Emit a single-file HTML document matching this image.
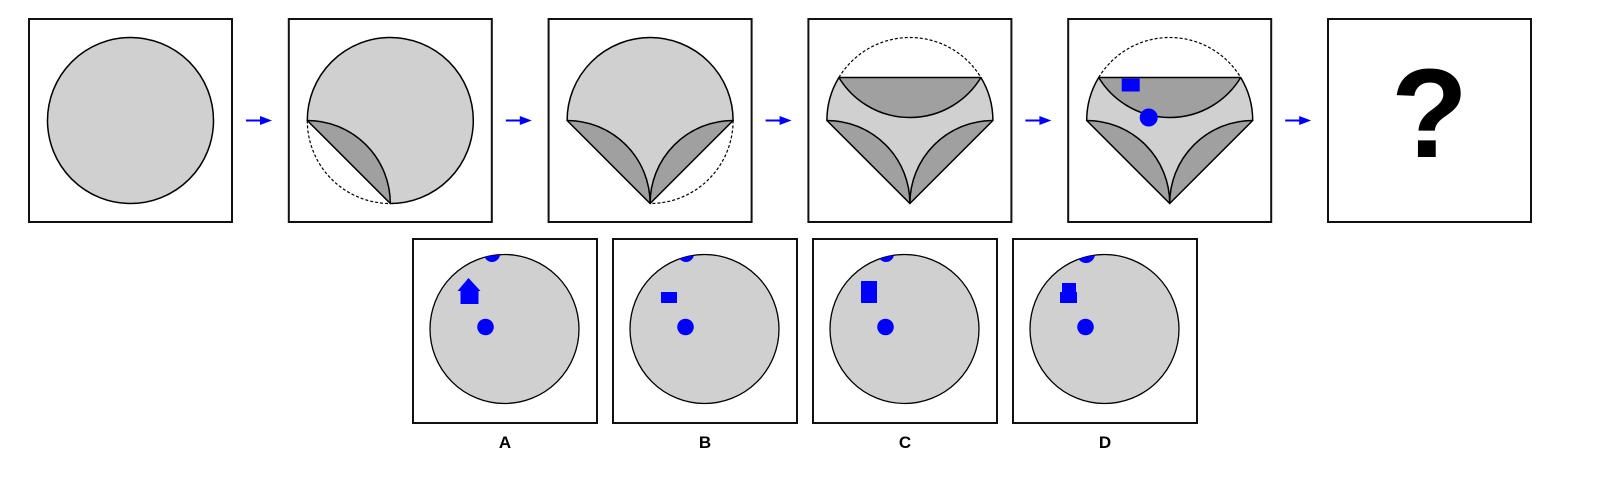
<!DOCTYPE html>
<html><head><meta charset="utf-8">
<style>
html,body{margin:0;padding:0;background:#fff;width:1610px;height:490px;overflow:hidden}
svg{display:block}
text{font-family:"Liberation Sans",sans-serif;font-weight:bold}
</style></head>
<body>
<svg id="s" width="1610" height="490" viewBox="0 0 1610 490" xmlns="http://www.w3.org/2000/svg">
<defs>
<clipPath id="cA"><circle cx="504.5" cy="329" r="74.5"/></clipPath>
<clipPath id="cB"><circle cx="704.5" cy="329" r="74.5"/></clipPath>
<clipPath id="cC"><circle cx="904.5" cy="329" r="74.5"/></clipPath>
<clipPath id="cD"><circle cx="1104.5" cy="329" r="74.5"/></clipPath>
</defs>
<g id="top"></g>
<g id="opts"></g>
</svg>
<script>
const NS='http://www.w3.org/2000/svg';
const svg=document.getElementById('s');
const topG=document.getElementById('top');
const optG=document.getElementById('opts');
function mk(tag,attrs,parent){const e=document.createElementNS(NS,tag);for(const k in attrs)e.setAttribute(k,attrs[k]);parent.appendChild(e);return e;}
const LIGHT='#d0d0d0',DARK='#a0a0a0',BLUE='#0000ff';
const r=83,cy=120.5;
const wf={fill:'#fff',stroke:'#fff','stroke-width':2};
for(let i=0;i<6;i++){
  const x0=29+259.8*i, cx=x0+101.5;
  const g=mk('g',{},topG);
  
  
  const box=mk('rect',{x:x0,y:19,width:203,height:203,fill:'#fff',stroke:'#111','stroke-width':2},g);
  
  
  const L=[cx-r,cy],B=[cx,cy+r],R=[cx+r,cy],T1=[cx-71,cy-43],T2=[cx+71,cy-43];
  const p=a=>a[0]+' '+a[1];
  const st={fill:'none',stroke:'#000','stroke-width':1.5};
  const ds={fill:'none',stroke:'#000','stroke-width':1.2,'stroke-dasharray':'3 2'};
  if(i===0){
    const c=mk('circle',{cx:cx,cy:cy,r:r,fill:LIGHT,stroke:'#000','stroke-width':1.5},g);
    
    
  } else if(i<5){
    mk('circle',{cx:cx,cy:cy,r:r,fill:LIGHT},g);
    mk('path',Object.assign({d:`M${p(L)} A${r} ${r} 0 0 0 ${p(B)} Z`},wf),g);
    if(i===1){
      mk('path',Object.assign({d:`M${p(L)} A${r} ${r} 0 0 0 ${p(B)}`},ds),g);
      mk('path',Object.assign({d:`M${p(B)} A${r} ${r} 0 1 0 ${p(L)}`},st),g);
    } else {
      mk('path',Object.assign({d:`M${p(R)} A${r} ${r} 0 0 1 ${p(B)} Z`},wf),g);
      if(i===2){
        mk('path',Object.assign({d:`M${p(R)} A${r} ${r} 0 0 1 ${p(B)}`},ds),g);
        mk('path',Object.assign({d:`M${p(L)} A${r} ${r} 0 0 1 ${p(R)}`},st),g);
      } else {
        mk('path',Object.assign({d:`M${p(T1)} A${r} ${r} 0 0 1 ${p(T2)} Z`},wf),g);
        mk('path',Object.assign({d:`M${p(T1)} A${r} ${r} 0 0 1 ${p(T2)}`},ds),g);
        mk('path',Object.assign({d:`M${p(T1)} A${r} ${r} 0 0 0 ${p(L)}`},st),g);
        mk('path',Object.assign({d:`M${p(R)} A${r} ${r} 0 0 0 ${p(T2)}`},st),g);
        const dt=mk('path',{d:`M${p(T1)} L${p(T2)} A${r} ${r} 0 0 1 ${p(T1)} Z`,fill:DARK,stroke:'#000','stroke-width':1.5,'stroke-linejoin':'round'},g);
        
        
      }
      const dr=mk('path',{d:`M${p(R)} A${r} ${r} 0 0 0 ${p(B)} Z`,fill:DARK,stroke:'#000','stroke-width':1.5,'stroke-linejoin':'round'},g);
      
      
    }
    const dl=mk('path',{d:`M${p(L)} A${r} ${r} 0 0 1 ${p(B)} Z`,fill:DARK,stroke:'#000','stroke-width':1.5,'stroke-linejoin':'round'},g);
    
    
    if(i===4){
      const sq=mk('rect',{x:cx-48,y:cy-42,width:18,height:13,fill:BLUE},g);
      
      
      const dot=mk('circle',{cx:cx-21,cy:cy-3,r:9,fill:BLUE},g);
      
      
    }
  } else {
    const q=mk('text',{x:cx,y:157,'font-size':126,'text-anchor':'middle',fill:'#000'},g);
    q.textContent='?';
    
    
  }
  if(i<5){
    const ax=x0+203+14;
    const a=mk('g',{},topG);
    
    
    mk('line',{x1:ax,y1:cy,x2:ax+16,y2:cy,stroke:BLUE,'stroke-width':2},a);
    mk('path',{d:`M${ax+14} ${cy-4.5} L${ax+26} ${cy} L${ax+14} ${cy+4.5} Z`,fill:BLUE},a);
  }
}
const labels=['A','B','C','D'];
for(let i=0;i<4;i++){
  const x0=413+200*i, cx=x0+91.5, ocy=329;
  const g=mk('g',{},optG);
  
  
  mk('rect',{x:x0,y:239,width:184,height:184,fill:'#fff',stroke:'#111','stroke-width':2},g);
  mk('circle',{cx:cx,cy:ocy,r:74.5,fill:LIGHT,stroke:'#000','stroke-width':1.3},g);
  const cl=mk('g',{'clip-path':`url(#c${labels[i]})`},g);
  const topx=[-12.5,-18.5,-18.5,-18.5][i];
  const hs=mk('circle',{cx:cx+topx,cy:254,r:[8,8,8,9][i],fill:BLUE},cl);
  
  
  const d=mk('circle',{cx:cx-19,cy:327,r:8.3,fill:BLUE},g);
  
  
  let shp;
  if(i===0) shp=mk('path',{d:`M${cx-44} ${ocy-38} L${cx-36} ${ocy-51} L${cx-24} ${ocy-38} L${cx-26} ${ocy-38} L${cx-26} ${ocy-25} L${cx-44} ${ocy-25} L${cx-44} ${ocy-38} L${cx-47} ${ocy-38} L${cx-36} ${ocy-51} Z`,fill:BLUE},g);
  else if(i===1) shp=mk('rect',{x:cx-43.5,y:ocy-37,width:16,height:11,fill:BLUE},g);
  else if(i===2) shp=mk('rect',{x:cx-43.5,y:ocy-48,width:16,height:22,fill:BLUE},g);
  else { shp=mk('g',{},g); mk('rect',{x:cx-42.5,y:ocy-46,width:14,height:10,fill:BLUE},shp); mk('rect',{x:cx-44.5,y:ocy-37,width:17,height:11,fill:BLUE},shp); }
  
  
  const t=mk('text',{x:x0+92,y:448,'font-size':17,'text-anchor':'middle',fill:'#000'},g);
  t.textContent=labels[i];
  
  
}
</script>
</body></html>
